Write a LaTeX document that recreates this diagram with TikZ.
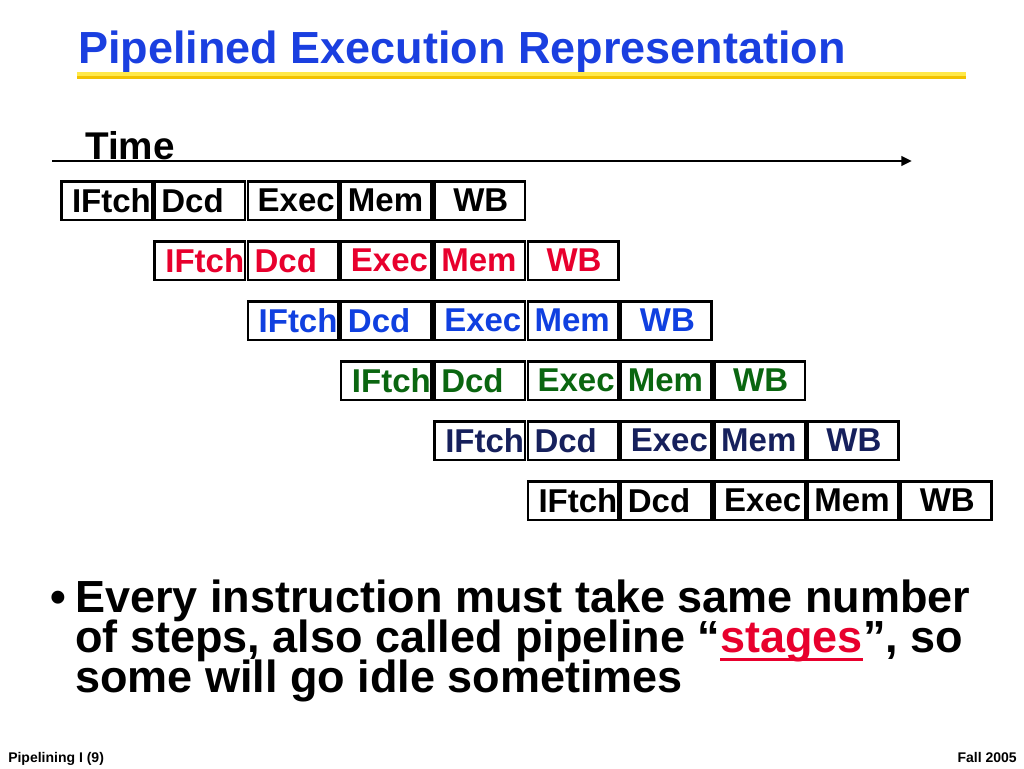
\documentclass[tikz,border=0pt]{standalone}
\usepackage{fontspec}
\setmainfont{Liberation Sans}
\usetikzlibrary{arrows.meta}
\definecolor{tblue}{HTML}{1A3FE0}
\definecolor{tgold}{HTML}{F2C200}
\definecolor{tyellow}{HTML}{FFE94A}
\definecolor{sred}{HTML}{E8002D}
\definecolor{sblue}{HTML}{1040E0}
\definecolor{sgreen}{HTML}{0A6610}
\definecolor{snavy}{HTML}{16205C}
\newcommand{\stageul}[1]{\setbox0\hbox{#1}\rlap{\rule[-7pt]{\wd0}{2.2pt}}\box0}
\newcommand{\tightlines}{\lineskiplimit=-20pt\relax}
\tikzset{
  cell/.style={draw, line width=1.9pt, minimum width=67.9pt, minimum height=28.9pt,
    inner sep=0pt, outer sep=0pt, anchor=north west},
  stagetext/.style={font=\fontsize{24.75}{28}\selectfont\bfseries, inner sep=0pt, anchor=west},
  big/.style={font=\fontsize{33.75}{30}\selectfont\bfseries\tightlines, inner sep=0pt},
  small/.style={font=\fontsize{10.5}{12}\selectfont\bfseries, inner sep=0pt},
}
\begin{document}
\begin{tikzpicture}[x=0.75pt, y=-0.75pt]
\useasboundingbox (0,0) rectangle (1024,768);
% title and rule
\node[big, anchor=base west, text=tblue] (title) at (78,63) {Pipelined Execution Representation};
\fill[tyellow] (77,72) rectangle (966,75.5);
\fill[tgold] (77,75.5) rectangle (966,79);
% time axis
\coordinate (t0) at (52,161);
\coordinate (t1) at (912,161);
\draw[line width=2pt, -{Triangle[length=8pt, width=7pt]}] (t0) -- (t1);
\node[anchor=base west, inner sep=0pt, font=\fontsize{29}{32}\selectfont\bfseries] (time) at (85,159) {Time};
% one row per instruction
\foreach \r/\col in {0/black,1/sred,2/sblue,3/sgreen,4/snavy,5/black} {
  \foreach \s/\o [count=\i from 0] in {IFtch/10.5,Dcd/6.5,Exec/9.5,Mem/6.5,WB/18.5} {
    \pgfmathsetmacro{\xx}{61.3+93.3*(\r+\i)}
    \pgfmathsetmacro{\yy}{181.3+60*\r}
    \pgfmathsetmacro{\tx}{\xx+\o}
    \pgfmathsetmacro{\ty}{\yy+19.25}
    \node[cell] (c\r\i) at (\xx,\yy) {};
    \node[stagetext, text=\col] (s\r\i) at (\tx,\ty) {\s};
  }
}
% bullet
\node[big, anchor=base west] (dot) at (50,612) {\textbullet};
\node[big, anchor=base west, align=left] (note) at (75,692)
  {Every instruction must take same number\\
   of steps, also called pipeline “\textcolor{sred}{\stageul{stages}}”, so\\
   some will go idle sometimes};
% footer
\node[small, anchor=base west] (foot) at (8,762) {Pipelining I (9)};
\node[small, anchor=base east] (term) at (1017,762) {Fall 2005};
\end{tikzpicture}
\end{document}
